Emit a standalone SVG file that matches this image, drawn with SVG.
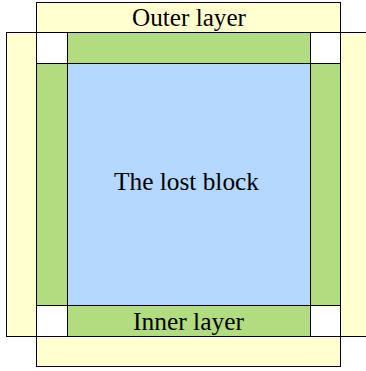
<svg xmlns="http://www.w3.org/2000/svg" width="366" height="371" viewBox="0 0 366 371">
<style>
.o{fill:#ffffd0;stroke:#000;stroke-width:1}
.g{fill:#b1dc80;stroke:#000;stroke-width:1}
.w{fill:#ffffff;stroke:#000;stroke-width:1}
.b{fill:#b4d8ff;stroke:#000;stroke-width:1}
</style>
<rect width="366" height="371" fill="#fff"/>
<g id="outer-top"><rect class="o" x="36.5" y="2.5" width="304" height="31"/><text font-family="Liberation Serif, Times New Roman, serif" font-size="26" text-anchor="middle" x="189" y="26" textLength="114" lengthAdjust="spacingAndGlyphs">Outer layer</text></g>
<g id="outer-bottom"><rect class="o" x="36.5" y="336.5" width="304" height="30"/></g>
<g id="outer-left"><rect class="o" x="6.5" y="32.5" width="30" height="304"/></g>
<g id="outer-right"><rect class="o" x="340.5" y="32.5" width="40" height="304"/></g>
<g id="corner-tl"><rect class="w" x="36.5" y="32.5" width="31" height="31"/></g>
<g id="corner-tr"><rect class="w" x="310.5" y="32.5" width="30" height="31"/></g>
<g id="corner-bl"><rect class="w" x="36.5" y="305.5" width="31" height="31"/></g>
<g id="corner-br"><rect class="w" x="310.5" y="305.5" width="30" height="31"/></g>
<g id="inner-top"><rect class="g" x="67.5" y="32.5" width="243" height="31"/></g>
<g id="inner-left"><rect class="g" x="36.5" y="63.5" width="31" height="242"/></g>
<g id="inner-right"><rect class="g" x="310.5" y="63.5" width="30" height="242"/></g>
<g id="inner-bottom"><rect class="g" x="67.5" y="305.5" width="243" height="31"/><text font-family="Liberation Serif, Times New Roman, serif" font-size="26" text-anchor="middle" x="188.5" y="330" textLength="111" lengthAdjust="spacingAndGlyphs">Inner layer</text></g>
<g id="lost-block"><rect class="b" x="67.5" y="63.5" width="243" height="242"/><text font-family="Liberation Serif, Times New Roman, serif" font-size="26" text-anchor="middle" x="186.5" y="190" textLength="145" lengthAdjust="spacingAndGlyphs">The lost block</text></g>
<g id="connectors"/>
</svg>
